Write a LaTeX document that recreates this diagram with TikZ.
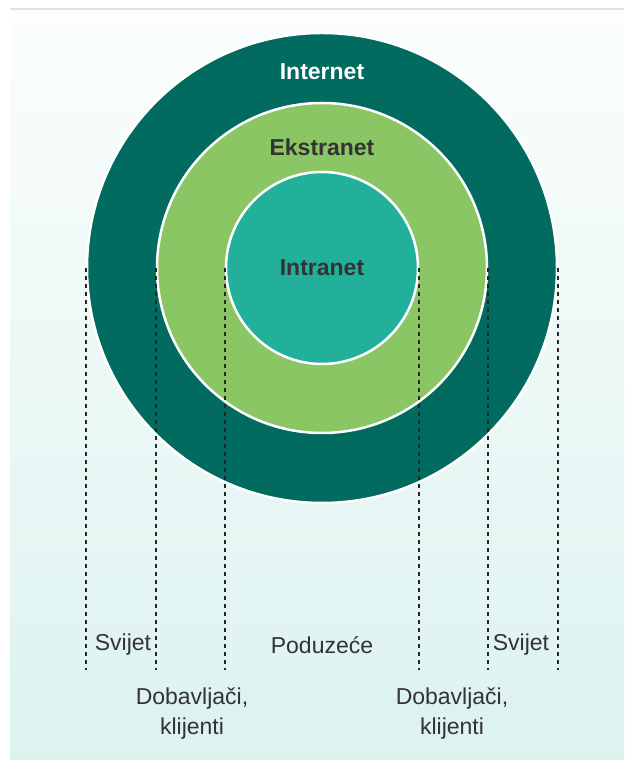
\documentclass[tikz,border=0pt]{standalone}
\usepackage{fontspec}
\setmainfont{Liberation Sans}
\usetikzlibrary{positioning}
\definecolor{ringout}{HTML}{006B5E}
\definecolor{ringmid}{HTML}{8BC665}
\definecolor{ringin}{HTML}{22B09A}
\definecolor{labtext}{HTML}{333333}
\begin{document}
\begin{tikzpicture}[
        x=1pt, y=1pt,
        ring/.style={circle, draw=white, line width=2.5pt, inner sep=0pt},
        ringlabel/.style={font=\fontsize{23}{27}\selectfont\bfseries},
        zone/.style={font=\fontsize{23}{30}\selectfont, text=labtext, align=center},
        guide/.style={draw=black!85, line width=2pt, dash pattern=on 4.5pt off 3.5pt},
        ]
        \useasboundingbox (0,0) rectangle (624,760);
        \shade[top color=white!60!ringin!4, bottom color=ringin!16] (10,0) rectangle (624,751);
        \draw[black!12, line width=1.5pt] (10,751) -- (624,751);

        \node[ring, fill=ringout, minimum size=470] (internet) at (322,492) {};
        \node[ring, fill=ringmid, minimum size=330] (ekstranet) at (322,492) {};
        \node[ring, fill=ringin, minimum size=192] (intranet) at (322,492) {};

        \node[ringlabel, text=white] (l_int) at (322,688) {Internet};
        \node[ringlabel, text=labtext] (l_eks) at (322,613) {Ekstranet};
        \node[ringlabel, text=labtext] at (intranet) {Intranet};

        \coordinate (foot) at (0,90);
        \foreach \n in {internet, ekstranet, intranet} {
          \draw[guide] (\n.west) -- (\n.west |- foot);
          \draw[guide] (\n.east) -- (\n.east |- foot);
        }

        \node[zone] (svijet_l) at (123,115) {Svijet};
        \node[zone] (poduzece) at (322,115) {Poduzeće};
        \node[zone] (svijet_r) at (521,115) {Svijet};
        \node[zone] (dob_l) at (192,46) {Dobavljači,\\klijenti};
        \node[zone] (dob_r) at (452,46) {Dobavljači,\\klijenti};
\end{tikzpicture}
\end{document}
